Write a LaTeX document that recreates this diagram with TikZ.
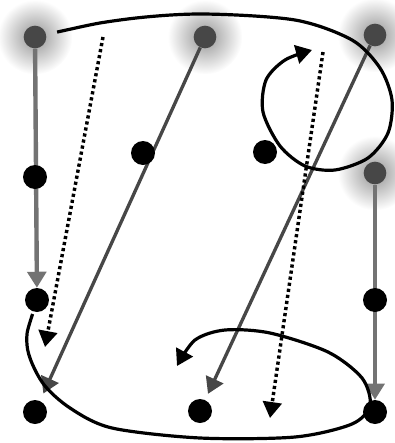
\documentclass[tikz,border=0pt]{standalone}
\usetikzlibrary{arrows.meta,backgrounds}

\begin{document}
\begin{tikzpicture}[x=0.75pt,y=-0.75pt,>={Triangle[width=14pt,length=12pt]},
dot/.style={circle,fill=black,inner sep=0pt,minimum size=18pt},
hub/.style={circle,fill=black!72,inner sep=0pt,minimum size=17pt},
rail/.style={->,draw=black!55,line width=3.3pt},
slant/.style={->,draw=black!72,line width=2.5pt},
dots/.style={->,black,line width=2.6pt,dash pattern=on 2.4pt off 2.2pt},
swing/.style={->,black,line width=2.4pt}]
\useasboundingbox (0,0) rectangle (395,443);
\node[hub](s1)at(35,37){};
\node[hub](s2)at(205,37){};
\node[hub](s3)at(375,35){};
\node[hub](s4)at(375,173){};
\node[dot](a1)at(35,177){};
\node[dot](a2)at(143,153){};
\node[dot](a3)at(265,152){};
\node[dot](b1)at(37,300){};
\node[dot](b2)at(375,300){};
\node[dot](c1)at(35,412){};
\node[dot](c2)at(200,411){};
\node[dot](c3)at(375,412){};
\coordinate(p1)at(103,37);
\coordinate(q1)at(45,347);
\coordinate(p2)at(323,52);
\coordinate(q2)at(270,418);
\begin{pgfonlayer}{background}
\foreach \n in {s1,s2,s3,s4}
  \shade[inner color=black!42,outer color=white](\n)circle(28pt);
\draw[rail](s1)--(b1);
\draw[rail](s4)--(c3);
\draw[slant,shorten >=6pt](s2)--(c1);
\draw[slant,shorten >=5pt](s3)--(c2);
\draw[dots](p1)--(q1);
\draw[dots](p2)--(q2);
% loop over the top right
\draw[swing,shorten <=17pt]plot[smooth]coordinates{(s1)(120,20)(200,14)(295,20)(352,40)(380,68)(392,100)(388,133)(368,158)(335,170)(305,166)(280,146)(263,112)(266,80)(285,60)(312,50)};
% loop along the bottom
\draw[swing,shorten <=11pt]plot[smooth]coordinates{(b1)(27,345)(42,382)(70,408)(112,428)(200,438)(295,437)(352,424)(370,405)(362,378)(328,352)(270,333)(225,330)(195,340)(177,366)};
\end{pgfonlayer}
\end{tikzpicture}
\end{document}
